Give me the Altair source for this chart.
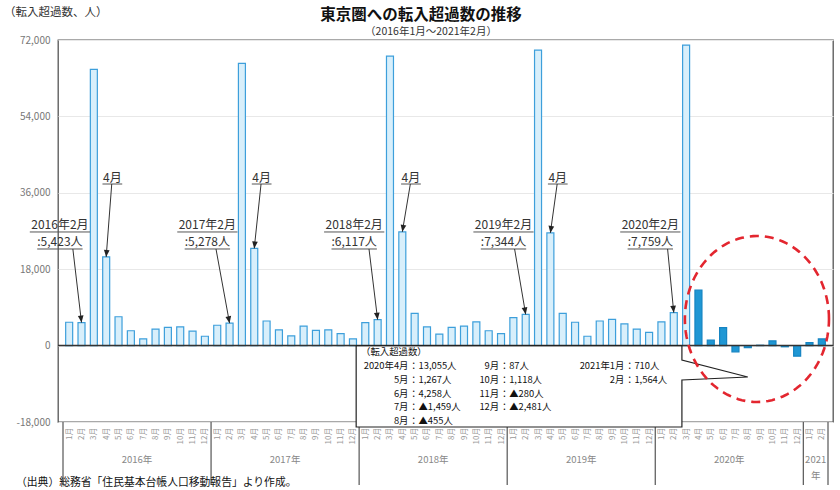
import math
import numpy as np
import pandas as pd
import altair as alt

FONT = "Noto Sans CJK JP"

# Monthly net in-migration to the Tokyo area (persons), Jan 2016 - Feb 2021
net_2016 = [5500, 5423, 65100, 20900, 6800, 3500, 1600, 3900, 4300, 4400, 3400, 2200]
net_2017 = [4800, 5278, 66500, 22900, 5800, 3700, 2300, 4600, 3600, 3700, 2800, 1600]
net_2018 = [5400, 6117, 68200, 26800, 7600, 4400, 2700, 4300, 4600, 5600, 3500, 2800]
net_2019 = [6600, 7344, 69600, 26550, 7600, 5500, 2200, 5800, 6200, 5100, 3900, 3100]
net_2020 = [5600, 7759, 70800, 13055, 1267, 4258, -1459, -455, 87, 1118, -280, -2481]
net_2021 = [710, 1564]

years = [2016, 2017, 2018, 2019, 2020, 2021]
year_series = [net_2016, net_2017, net_2018, net_2019, net_2020, net_2021]
year_labels = ["2016年", "2017年", "2018年", "2019年", "2020年", ["2021", "年"]]

rows = []
for y, vals in zip(years, year_series):
    for m, v in enumerate(vals, start=1):
        rows.append({"year": y, "month": m, "value": v})
df = pd.DataFrame(rows)
df["idx"] = np.arange(len(df))
COVID_START = 51  # April 2020
df["phase"] = np.where(df["idx"] >= COVID_START, "after", "before")

X_DOMAIN = [-0.5, len(df) - 0.5]
Y_DOMAIN = [-18000, 72000]
PLOT_W, PLOT_H = 775, 382
px_x = PLOT_W / (X_DOMAIN[1] - X_DOMAIN[0])
px_y = PLOT_H / (Y_DOMAIN[1] - Y_DOMAIN[0])

xs = alt.Scale(domain=X_DOMAIN, nice=False, zero=False)
ys = alt.Scale(domain=Y_DOMAIN, nice=False, zero=False)

bars = alt.Chart(df).mark_bar(size=7, strokeWidth=1.2).encode(
    x=alt.X("idx:Q", scale=xs, axis=alt.Axis(
        values=list(range(len(df))), tickCount=200,
        labelExpr="(datum.value % 12 + 1) + '月'",
        labelAngle=270, labelFont=FONT, labelFontSize=8, labelColor="#999",
        labelPadding=5, labelOverlap=False, labelBound=False, labelFlush=False,
        grid=False, domain=False, ticks=False, title=None)),
    y=alt.Y("value:Q", scale=ys, axis=alt.Axis(
        values=[-18000, 0, 18000, 36000, 54000, 72000],
        labelExpr="replace(format(datum.value, ','), '\u2212', '-')",
        labelFont=FONT, labelFontSize=10, labelColor="#777", labelPadding=8,
        grid=True, gridColor="#e8e8e8", domain=False, ticks=False, title=None)),
    fill=alt.Fill("phase:N", scale=alt.Scale(domain=["before", "after"],
                                             range=["#d8effb", "#1f97d4"]), legend=None),
    stroke=alt.Stroke("phase:N", scale=alt.Scale(domain=["before", "after"],
                                                 range=["#3d9fdb", "#1584c2"]), legend=None),
)

zero_line = alt.Chart(pd.DataFrame({"v": [0]})).mark_rule(
    color="#333", strokeWidth=1.5).encode(y=alt.Y("v:Q", scale=ys))

# year separators and year names under the month labels
year_bounds = [-0.5, 11.5, 23.5, 35.5, 47.5, 59.5, 61.5]
separators = alt.Chart(pd.DataFrame({"b": year_bounds})).mark_rule(
    color="#555", strokeWidth=1.2).encode(
    x=alt.X("b:Q", scale=xs), y=alt.value(PLOT_H), y2=alt.value(PLOT_H + 63))

year_centers = [5.5, 17.5, 29.5, 41.5, 53.5, 60.5]
year_text = alt.Chart(pd.DataFrame({"c": year_centers, "t": year_labels})).mark_text(
    font=FONT, fontSize=9.5, color="#888", baseline="middle", lineHeight=16).encode(
    x=alt.X("c:Q", scale=xs), y=alt.value(PLOT_H + 38), text="t")

# callout box listing the post-April-2020 values
box_left, box_right, box_top, box_bottom = 23.26, 49.66, 0, -19180
box_fill = alt.Chart(pd.DataFrame({"x": [box_left], "x2": [box_right],
                                   "y": [box_top], "y2": [box_bottom]})).mark_rect(
    fill="white").encode(x=alt.X("x:Q", scale=xs), x2="x2", y=alt.Y("y:Q", scale=ys), y2="y2")

outline_x = [box_left, box_right, box_right, 55.0, box_right, box_right, box_left, box_left]
outline_y = [box_top, box_top, -3390, -7400, -8100, box_bottom, box_bottom, box_top]
box_outline = alt.Chart(pd.DataFrame({"x": outline_x, "y": outline_y,
                                      "o": range(len(outline_x))})).mark_line(
    color="#222", strokeWidth=1.2).encode(
    x=alt.X("x:Q", scale=xs), y=alt.Y("y:Q", scale=ys), order="o:Q")


def fmt_people(v):
    return ("▲{:,}人".format(-v) if v < 0 else "{:,}人".format(v))


BOX_FONT = 9.4
row_y = [-4800, -8050, -11290, -14520, -17760]
col_spec = [
    (range(51, 56), ["2020年4月", "5月", "6月", "7月", "8月"], 27.5),
    (range(56, 60), ["9月", "10月", "11月", "12月"], 34.85),
    (range(60, 62), ["2021年1月", "2月"], 45.0),
]
lab_rows, val_rows = [], []
for idxs, names, cx in col_spec:
    for r, (i, name) in enumerate(zip(idxs, names)):
        lab_rows.append({"x": cx, "y": row_y[r], "t": name})
        val_rows.append({"x": cx + 0.05, "y": row_y[r],
                         "t": "：" + fmt_people(int(df.loc[i, "value"]))})
box_header = alt.Chart(pd.DataFrame({"x": [23.66], "y": [-1500], "t": ["（転入超過数）"]})).mark_text(
    font=FONT, fontSize=BOX_FONT, color="#111", align="left", baseline="middle").encode(
    x=alt.X("x:Q", scale=xs), y=alt.Y("y:Q", scale=ys), text="t")
box_labels = alt.Chart(pd.DataFrame(lab_rows)).mark_text(
    font=FONT, fontSize=BOX_FONT, color="#111", align="right", baseline="middle").encode(
    x=alt.X("x:Q", scale=xs), y=alt.Y("y:Q", scale=ys), text="t")
box_values = alt.Chart(pd.DataFrame(val_rows)).mark_text(
    font=FONT, fontSize=BOX_FONT, color="#111", align="left", baseline="middle").encode(
    x=alt.X("x:Q", scale=xs), y=alt.Y("y:Q", scale=ys), text="t")

# February / April call-outs with arrows
feb_idx = [1, 13, 25, 37, 49]
feb_cx = [-0.75, 11.2, 23.1, 35.2, 47.1]
feb_start = [0.3, 11.9, 24.3, 36.1, 48.5]
apr_idx = [3, 15, 27, 39]
apr_cx = [3.5, 15.6, 27.7, 39.6]

LINE1_Y, LINE2_Y, UL1_Y, UL2_Y = 28370, 24410, 26770, 22760
APR_Y, APR_UL_Y = 39470, 38070

ann_text, underline, arrows = [], [], []
for i, cx, sx in zip(feb_idx, feb_cx, feb_start):
    yr, mo, v = int(df.loc[i, "year"]), int(df.loc[i, "month"]), int(df.loc[i, "value"])
    ann_text.append({"x": cx, "y": LINE1_Y, "t": f"{yr}年{mo}月"})
    ann_text.append({"x": cx, "y": LINE2_Y, "t": f":{v:,}人"})
    underline.append({"x": cx - 2.44, "x2": cx + 2.44, "y": UL1_Y})
    underline.append({"x": cx - 1.84, "x2": cx + 1.84, "y": UL2_Y})
    arrows.append({"x": sx, "y": UL2_Y, "x2": i, "y2": v})
for i, cx in zip(apr_idx, apr_cx):
    v = int(df.loc[i, "value"])
    ann_text.append({"x": cx, "y": APR_Y, "t": "4月"})
    underline.append({"x": cx - 0.8, "x2": cx + 0.8, "y": APR_UL_Y})
    arrows.append({"x": cx - 0.05, "y": APR_UL_Y, "x2": i, "y2": v})

arr = pd.DataFrame(arrows)
arr["ang"] = [
    math.degrees(math.atan2(-(r.x2 - r.x) * px_x, (r.y - r.y2) * px_y)) % 360
    for r in arr.itertuples()
]

ann = alt.Chart(pd.DataFrame(ann_text)).mark_text(
    font=FONT, fontSize=12, color="#333", align="center", baseline="middle").encode(
    x=alt.X("x:Q", scale=xs), y=alt.Y("y:Q", scale=ys), text="t")
ul = alt.Chart(pd.DataFrame(underline)).mark_rule(color="#555", strokeWidth=1).encode(
    x=alt.X("x:Q", scale=xs), x2="x2", y=alt.Y("y:Q", scale=ys))
arrow_lines = alt.Chart(arr).mark_rule(color="#333", strokeWidth=1).encode(
    x=alt.X("x:Q", scale=xs), x2="x2", y=alt.Y("y:Q", scale=ys), y2="y2")
arrow_heads = alt.Chart(arr).mark_point(
    shape="M0,0L-0.45,-1.1L0.45,-1.1Z", filled=True, size=160, color="#222", opacity=1).encode(
    x=alt.X("x2:Q", scale=xs), y=alt.Y("y2:Q", scale=ys), angle=alt.Angle("ang:Q", scale=None))

# dashed ellipse highlighting the months since April 2020
t = np.linspace(0, 2 * np.pi, 121)
ell = pd.DataFrame({"x": 55.74 + 5.84 * np.cos(t), "y": 6270 + 19550 * np.sin(t),
                    "o": np.arange(len(t))})
ellipse = alt.Chart(ell).mark_line(color="#e3262f", strokeWidth=2.6,
                                   strokeDash=[9, 6]).encode(
    x=alt.X("x:Q", scale=xs), y=alt.Y("y:Q", scale=ys), order="o:Q")

# titles and notes around the plot
def label(text, x, y, size, **kw):
    return alt.Chart(pd.DataFrame({"t": [text]})).mark_text(
        font=FONT, fontSize=size, baseline="middle", **kw).encode(
        x=alt.value(x), y=alt.value(y), text="t")

title = label("東京圏への転入超過数の推移", 363, -25, 15.5, fontWeight="bold", color="#111")
subtitle = label("（2016年1月～2021年2月）", 373, -8, 10.5, color="#333")
y_caption = label("（転入超過数、人）", -54, -27, 11.5, align="left", color="#333")
source = label("（出典）総務省「住民基本台帳人口移動報告」より作成。", -42, 443, 10.8,
               align="left", color="#111")

chart = alt.layer(
    bars, separators, year_text, box_fill, zero_line, box_outline,
    box_header, box_labels, box_values, ul, ann, arrow_lines, arrow_heads,
    ellipse, title, subtitle, y_caption, source,
).properties(
    width=PLOT_W, height=PLOT_H,
    autosize=alt.AutoSizeParams(type="none"),
    padding={"left": 58, "top": 40, "right": 7, "bottom": 68},
).configure_view(stroke="#555", strokeWidth=1.3)

chart.save("out.html", embed_options={"renderer": "svg", "actions": False})
